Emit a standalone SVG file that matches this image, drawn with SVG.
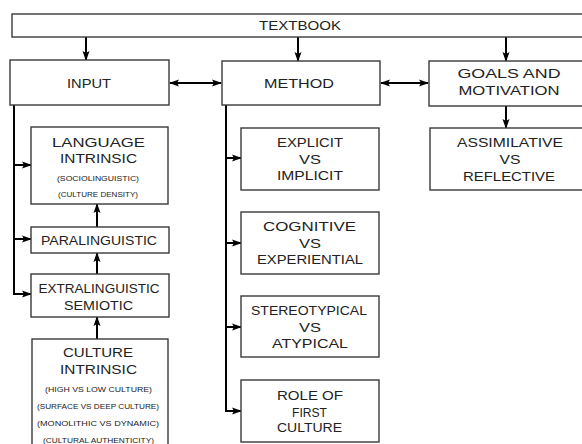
<svg xmlns="http://www.w3.org/2000/svg" width="582" height="444" viewBox="0 0 582 444">
<defs>
<marker id="ah" markerUnits="userSpaceOnUse" markerWidth="10" markerHeight="8" refX="9" refY="4" orient="auto">
<path d="M0,0.5 L10,4 L0,7.5 L2,4 Z" fill="#000"/>
</marker>
<marker id="ahs" markerUnits="userSpaceOnUse" markerWidth="10" markerHeight="8" refX="1" refY="4" orient="auto">
<path d="M10,0.5 L0,4 L10,7.5 L8,4 Z" fill="#000"/>
</marker>
</defs>
<style>
rect{fill:#fff;stroke:#3a3a3a;stroke-width:1.4}
text{font-family:"Liberation Sans",Arial,sans-serif;fill:#222;text-anchor:middle}
.m{font-size:13px}
.s{font-size:7px}
.c{fill:none;stroke:#000;stroke-width:2}
</style>
<rect x="0" y="0" width="582" height="444" style="fill:#fff;stroke:none"/>
<g id="connectors">
<line class="c" x1="86" y1="37" x2="86" y2="60" marker-end="url(#ah)"/>
<line class="c" x1="298" y1="37" x2="298" y2="61" marker-end="url(#ah)"/>
<line class="c" x1="506" y1="37" x2="506" y2="61" marker-end="url(#ah)"/>
<line class="c" x1="170" y1="83" x2="221" y2="83" marker-start="url(#ahs)" marker-end="url(#ah)"/>
<line class="c" x1="381" y1="83" x2="428" y2="83" marker-start="url(#ahs)" marker-end="url(#ah)"/>
<line class="c" x1="506" y1="106" x2="506" y2="128" marker-end="url(#ah)"/>
<path class="c" d="M14,105 V294"/>
<line class="c" x1="13" y1="165" x2="31" y2="165" marker-end="url(#ah)"/>
<line class="c" x1="13" y1="239" x2="31" y2="239" marker-end="url(#ah)"/>
<path class="c" d="M14,293 V294 H31" marker-end="url(#ah)"/>
<line class="c" x1="97" y1="227" x2="97" y2="204" marker-end="url(#ah)"/>
<line class="c" x1="97" y1="274" x2="97" y2="253" marker-end="url(#ah)"/>
<line class="c" x1="97" y1="339" x2="97" y2="317" marker-end="url(#ah)"/>
<path class="c" d="M226,105 V411"/>
<line class="c" x1="225" y1="158" x2="241" y2="158" marker-end="url(#ah)"/>
<line class="c" x1="225" y1="243" x2="241" y2="243" marker-end="url(#ah)"/>
<line class="c" x1="225" y1="327" x2="241" y2="327" marker-end="url(#ah)"/>
<path class="c" d="M226,410 V411 H241" marker-end="url(#ah)"/>
</g>
<g id="textbook"><rect x="12" y="14" width="580" height="23"/><text class="m" x="300" y="30" textLength="82" lengthAdjust="spacingAndGlyphs">TEXTBOOK</text></g>
<g id="input"><rect x="10" y="60" width="159" height="45"/><text class="m" x="89" y="88" textLength="44" lengthAdjust="spacingAndGlyphs">INPUT</text></g>
<g id="method"><rect x="222" y="61" width="158" height="44"/><text class="m" x="299" y="88" textLength="70" lengthAdjust="spacingAndGlyphs">METHOD</text></g>
<g id="goals"><rect x="429" y="61" width="163" height="45"/><text class="m" x="509" y="78" textLength="103" lengthAdjust="spacingAndGlyphs">GOALS AND</text><text class="m" x="509" y="95" textLength="101" lengthAdjust="spacingAndGlyphs">MOTIVATION</text></g>
<g id="assimilative"><rect x="430" y="128" width="162" height="62"/><text class="m" x="510" y="147" textLength="106" lengthAdjust="spacingAndGlyphs">ASSIMILATIVE</text><text class="m" x="510" y="164" textLength="21" lengthAdjust="spacingAndGlyphs">VS</text><text class="m" x="509" y="181" textLength="92" lengthAdjust="spacingAndGlyphs">REFLECTIVE</text></g>
<g id="language"><rect x="31" y="127" width="137" height="77"/><text class="m" x="98.5" y="147" textLength="93" lengthAdjust="spacingAndGlyphs">LANGUAGE</text><text class="m" x="98.5" y="163" textLength="77" lengthAdjust="spacingAndGlyphs">INTRINSIC</text><text class="s" x="98" y="180.5" textLength="82" lengthAdjust="spacingAndGlyphs">(SOCIOLINGUISTIC)</text><text class="s" x="98" y="196.5" textLength="80" lengthAdjust="spacingAndGlyphs">(CULTURE DENSITY)</text></g>
<g id="paralinguistic"><rect x="31" y="227" width="138" height="26"/><text class="m" x="99" y="245" textLength="116" lengthAdjust="spacingAndGlyphs">PARALINGUISTIC</text></g>
<g id="extralinguistic"><rect x="31" y="274" width="138" height="43"/><text class="m" x="99" y="293" textLength="121" lengthAdjust="spacingAndGlyphs">EXTRALINGUISTIC</text><text class="m" x="98.5" y="310" textLength="69" lengthAdjust="spacingAndGlyphs">SEMIOTIC</text></g>
<g id="culture"><rect x="32" y="339" width="136" height="115"/><text class="m" x="98" y="357" textLength="70" lengthAdjust="spacingAndGlyphs">CULTURE</text><text class="m" x="98.5" y="374" textLength="77" lengthAdjust="spacingAndGlyphs">INTRINSIC</text><text class="s" x="98.5" y="391.5" textLength="107" lengthAdjust="spacingAndGlyphs">(HIGH VS LOW CULTURE)</text><text class="s" x="98" y="408.5" textLength="122" lengthAdjust="spacingAndGlyphs">(SURFACE VS DEEP CULTURE)</text><text class="s" x="98" y="425.5" textLength="122" lengthAdjust="spacingAndGlyphs">(MONOLITHIC VS DYNAMIC)</text><text class="s" x="98.5" y="442.5" textLength="111" lengthAdjust="spacingAndGlyphs">(CULTURAL AUTHENTICITY)</text></g>
<g id="explicit"><rect x="241" y="128" width="138" height="62"/><text class="m" x="310" y="147" textLength="66" lengthAdjust="spacingAndGlyphs">EXPLICIT</text><text class="m" x="310" y="164" textLength="22" lengthAdjust="spacingAndGlyphs">VS</text><text class="m" x="310" y="180" textLength="66" lengthAdjust="spacingAndGlyphs">IMPLICIT</text></g>
<g id="cognitive"><rect x="241" y="212" width="138" height="62"/><text class="m" x="309.5" y="231" textLength="93" lengthAdjust="spacingAndGlyphs">COGNITIVE</text><text class="m" x="310" y="248" textLength="22" lengthAdjust="spacingAndGlyphs">VS</text><text class="m" x="310" y="264" textLength="106" lengthAdjust="spacingAndGlyphs">EXPERIENTIAL</text></g>
<g id="stereotypical"><rect x="241" y="296" width="138" height="61"/><text class="m" x="309" y="315" textLength="116" lengthAdjust="spacingAndGlyphs">STEREOTYPICAL</text><text class="m" x="310" y="332" textLength="22" lengthAdjust="spacingAndGlyphs">VS</text><text class="m" x="310" y="348" textLength="76" lengthAdjust="spacingAndGlyphs">ATYPICAL</text></g>
<g id="role"><rect x="241" y="380" width="138" height="62"/><text class="m" x="310" y="400" textLength="66" lengthAdjust="spacingAndGlyphs">ROLE OF</text><text class="m" x="309.5" y="417" textLength="35" lengthAdjust="spacingAndGlyphs">FIRST</text><text class="m" x="309.5" y="432" textLength="65" lengthAdjust="spacingAndGlyphs">CULTURE</text></g>
</svg>
